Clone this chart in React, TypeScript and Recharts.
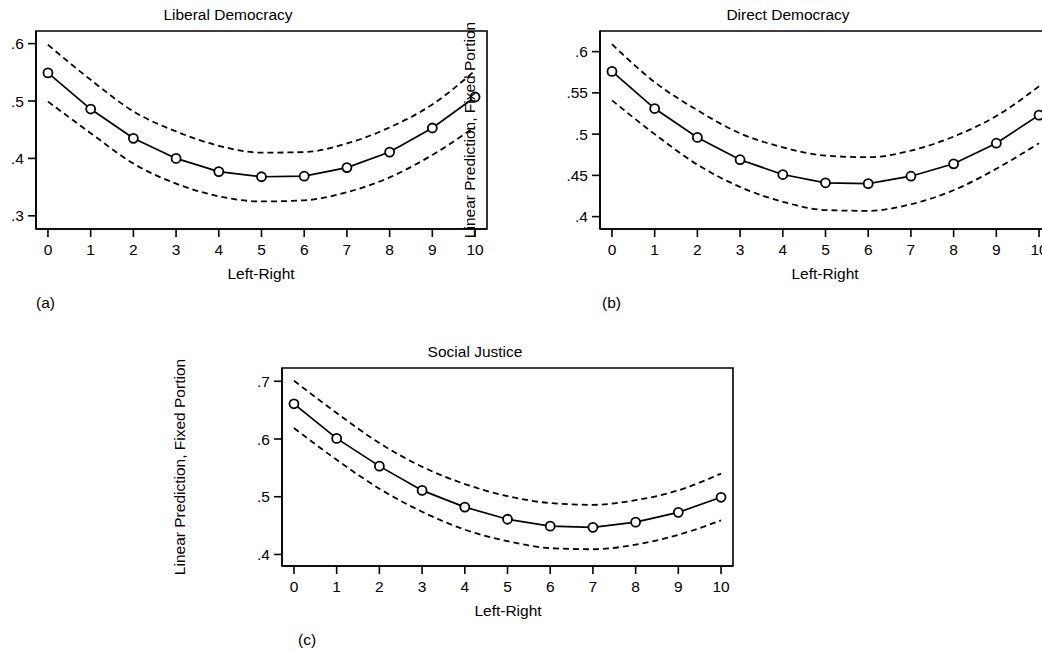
import React from "react";
import { LineChart, Line, XAxis, YAxis, ReferenceArea } from "recharts";

const leftRight = [0, 1, 2, 3, 4, 5, 6, 7, 8, 9, 10];

const libPred = [0.549, 0.486, 0.435, 0.4, 0.377, 0.368, 0.369, 0.384, 0.411, 0.453, 0.507];
const libUpper = [0.598, 0.537, 0.482, 0.447, 0.422, 0.41, 0.411, 0.426, 0.454, 0.494, 0.553];
const libLower = [0.499, 0.444, 0.391, 0.356, 0.334, 0.325, 0.327, 0.341, 0.367, 0.406, 0.455];

const dirPred = [0.576, 0.531, 0.496, 0.469, 0.451, 0.441, 0.44, 0.449, 0.464, 0.489, 0.523];
const dirUpper = [0.609, 0.563, 0.529, 0.501, 0.484, 0.474, 0.472, 0.48, 0.497, 0.522, 0.558];
const dirLower = [0.541, 0.5, 0.463, 0.436, 0.418, 0.408, 0.407, 0.415, 0.432, 0.458, 0.489];

const socPred = [0.661, 0.601, 0.553, 0.511, 0.482, 0.461, 0.449, 0.447, 0.456, 0.473, 0.499];
const socUpper = [0.701, 0.645, 0.593, 0.552, 0.522, 0.501, 0.489, 0.486, 0.494, 0.511, 0.54];
const socLower = [0.619, 0.564, 0.514, 0.474, 0.443, 0.423, 0.411, 0.409, 0.417, 0.434, 0.459];

const libTicks = [0.3, 0.4, 0.5, 0.6];
const dirTicks = [0.4, 0.45, 0.5, 0.55, 0.6];
const socTicks = [0.4, 0.5, 0.6, 0.7];

const xDomain: [number, number] = [-0.28, 10.28];

const FONT = "'Liberation Sans', Arial, sans-serif";
const FS = 15.5;

const build = (pred: number[], upper: number[], lower: number[]) =>
  leftRight.map((x, i) => ({ x, pred: pred[i], upper: upper[i], lower: lower[i] }));

const fmt = (v: number) => {
  const s = String(Math.round(v * 100) / 100);
  return s.startsWith("0") ? s.slice(1) : s;
};

type PanelProps = {
  left: number;
  top: number;
  pred: number[];
  upper: number[];
  lower: number[];
  yDomain: [number, number];
  yTicks: number[];
};

const Panel = ({ left, top, pred, upper, lower, yDomain, yTicks }: PanelProps) => {
  const data = build(pred, upper, lower);
  const tickStyle = { fill: "#000", fontSize: FS, fontFamily: FONT };
  return (
    <div style={{ position: "absolute", left, top }}>
      <LineChart
        width={500}
        height={260}
        data={data}
        margin={{ top: 31, right: 13, bottom: 1, left: 0 }}
      >
        <XAxis
          dataKey="x"
          type="number"
          domain={xDomain}
          ticks={leftRight}
          allowDataOverflow
          height={30}
          tick={tickStyle}
          tickSize={8}
          tickMargin={7}
          stroke="#000"
          strokeWidth={1.6}
          interval={0}
        />
        <YAxis
          type="number"
          domain={yDomain}
          ticks={yTicks}
          allowDataOverflow
          width={36}
          tick={tickStyle}
          tickSize={8}
          tickMargin={4}
          tickFormatter={fmt}
          stroke="#000"
          strokeWidth={1.6}
          interval={0}
        />
        <ReferenceArea
          x1={xDomain[0]}
          x2={xDomain[1]}
          y1={yDomain[0]}
          y2={yDomain[1]}
          fill="none"
          stroke="#000"
          strokeWidth={1.6}
          fillOpacity={0}
        />
        <Line
          dataKey="upper"
          type="monotone"
          stroke="#000"
          strokeWidth={1.8}
          strokeDasharray="6 4"
          dot={false}
          isAnimationActive={false}
        />
        <Line
          dataKey="lower"
          type="monotone"
          stroke="#000"
          strokeWidth={1.8}
          strokeDasharray="6 4"
          dot={false}
          isAnimationActive={false}
        />
        <Line
          dataKey="pred"
          type="linear"
          stroke="#000"
          strokeWidth={1.7}
          dot={{ r: 4.5, fill: "#fff", stroke: "#000", strokeWidth: 1.8 }}
          isAnimationActive={false}
        />
      </LineChart>
    </div>
  );
};

const Txt = ({ x, y, children, anchor = "center", rotate = false }: any) => {
  const tx = anchor === "center" ? "-50%" : "0";
  return (
    <div
      style={{
        position: "absolute",
        left: x,
        top: y,
        transform: rotate ? "translate(-50%, -50%) rotate(-90deg)" : `translate(${tx}, -50%)`,
        fontFamily: FONT,
        fontSize: FS,
        color: "#000",
        whiteSpace: "nowrap",
        lineHeight: 1,
      }}
    >
      {children}
    </div>
  );
};

export default function App() {
  return (
    <div
      style={{
        position: "absolute",
        left: 0,
        top: 0,
        width: 1042,
        height: 651,
        overflow: "hidden",
        background: "#fff",
      }}
    >
      <Panel left={0} top={0} pred={libPred} upper={libUpper} lower={libLower} yDomain={[0.277, 0.622]} yTicks={libTicks} />
      <Panel left={564} top={0} pred={dirPred} upper={dirUpper} lower={dirLower} yDomain={[0.385, 0.625]} yTicks={dirTicks} />
      <Panel left={246} top={337} pred={socPred} upper={socUpper} lower={socLower} yDomain={[0.38, 0.723]} yTicks={socTicks} />

      <Txt x={228} y={15}>Liberal Democracy</Txt>
      <Txt x={788} y={15}>Direct Democracy</Txt>
      <Txt x={475} y={352}>Social Justice</Txt>

      <Txt x={261} y={274}>Left-Right</Txt>
      <Txt x={825} y={274}>Left-Right</Txt>
      <Txt x={508} y={611}>Left-Right</Txt>

      <Txt x={36} y={303} anchor="left">(a)</Txt>
      <Txt x={602} y={303} anchor="left">(b)</Txt>
      <Txt x={298} y={640} anchor="left">(c)</Txt>

      <Txt x={470} y={130} rotate>Linear Prediction, Fixed Portion</Txt>
      <Txt x={180} y={467} rotate>Linear Prediction, Fixed Portion</Txt>
    </div>
  );
}
